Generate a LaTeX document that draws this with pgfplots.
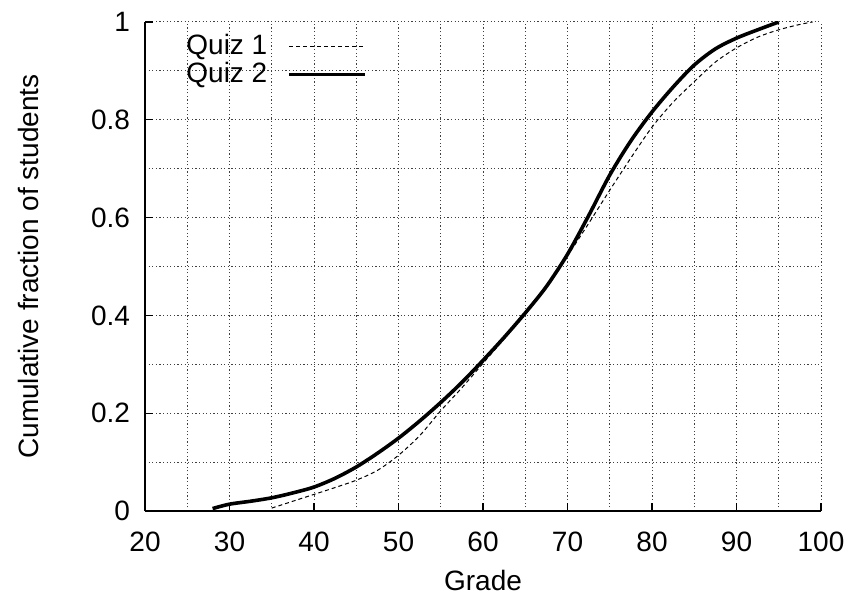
\documentclass[border=0pt]{standalone}
\usepackage{fontspec}
\setmainfont{Liberation Sans}
\setsansfont{Liberation Sans}
\usepackage{pgfplots}
\pgfplotsset{compat=1.18}
\usetikzlibrary{calc}

\pgfplotstableread{
x     y
35    0.006
37.5  0.020
40    0.034
42.5  0.048
45    0.063
47.5  0.083
50    0.114
52.5  0.154
55    0.205
57.5  0.252
60    0.302
62.5  0.352
65    0.405
67.5  0.462
70    0.522
72.5  0.588
75    0.656
77.5  0.722
80    0.785
82.5  0.836
85    0.878
87.5  0.918
90    0.947
92.5  0.969
95    0.984
97.5  0.995
99    1.000
}\quizone

\pgfplotstableread{
x     y
28    0.005
30    0.014
32.5  0.020
35    0.027
37.5  0.037
40    0.049
42.5  0.067
45    0.090
47.5  0.118
50    0.149
52.5  0.184
55    0.222
57.5  0.263
60    0.308
62.5  0.355
65    0.405
67.5  0.459
70    0.525
72.5  0.604
75    0.687
77.5  0.757
80    0.816
82.5  0.867
85    0.912
87.5  0.945
90    0.967
92.5  0.984
95    1.000
}\quiztwo

\begin{document}
\begin{tikzpicture}
\begin{axis}[
  scale only axis,
  width=338pt, height=244.5pt,
  xmin=20, xmax=100, ymin=0, ymax=1,
  xtick={20,30,...,100},
  ytick={0,0.2,0.4,0.6,0.8,1},
  minor x tick num=1, minor y tick num=1,
  grid=both,
  major grid style={black!75, line width=0.5pt, dash pattern=on 0.6pt off 1.2pt},
  minor grid style={black!75, line width=0.5pt, dash pattern=on 0.6pt off 1.2pt},
  axis x line*=bottom, axis y line*=left,
  axis line style={-, line width=0.8pt},
  tick align=inside,
  major tick length=4pt, minor tick length=0pt,
  tick style={black, line width=0.6pt},
  /pgf/number format/assume math mode=true,
  ticklabel style={font=\fontsize{14}{16}\selectfont},
  yticklabel style={anchor=east, xshift=-4pt},
  xticklabel style={anchor=north, yshift=-7pt},
  label style={font=\fontsize{14}{16}\selectfont},
  xlabel={Grade},
  ylabel={Cumulative fraction of students},
  xlabel style={at={($(rel axis cs:0.5,0)+(0,-34.5pt)$)}, anchor=center},
  ylabel style={at={($(rel axis cs:0,0.5)+(-58.5pt,0)$)}, anchor=center},
  legend style={at={(rel axis cs:0,1)}, anchor=north west, xshift=16.5pt, yshift=-2pt,
                draw=none, fill=none, font=\fontsize{14}{16}\selectfont,
                row sep=-1.5pt, inner sep=2pt},
  legend cell align=right,
  legend plot pos=right,
  legend image code/.code={\path (0pt,0pt); \draw[#1] (8pt,0pt) -- (46pt,0pt);},
]
\coordinate (bl) at (rel axis cs:0,0);
\coordinate (tr) at (rel axis cs:1,1);
\addplot[black, line width=0.5pt, dash pattern=on 2pt off 1.5pt, smooth, tension=0.5]
  table[x=x, y=y] {\quizone};
\addlegendentry{Quiz 1}
\addplot[black, line width=1.8pt, smooth, tension=0.5]
  table[x=x, y=y] {\quiztwo};
\addlegendentry{Quiz 2}
\end{axis}
\pgfresetboundingbox
\path[use as bounding box] ($(bl)+(-72.5pt,-43pt)$) rectangle ($(tr)+(16.5pt,11pt)$);
\end{tikzpicture}
\end{document}
